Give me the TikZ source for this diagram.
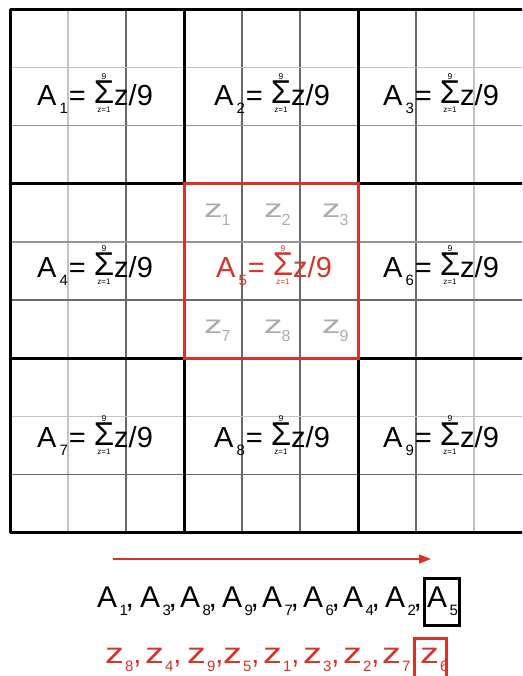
\documentclass[tikz,border=0pt]{standalone}
\usepackage{fontspec}
\setmainfont{Liberation Sans}
\usetikzlibrary{arrows.meta}
\definecolor{myred}{RGB}{214,52,40}
\definecolor{zgray}{RGB}{172,172,172}
\definecolor{lgray}{RGB}{195,195,195}
\definecolor{mgray}{RGB}{150,150,150}
\definecolor{dgray}{RGB}{105,105,105}
\newsavebox\sigbox
\newcommand\sumlim{%
  \sbox\sigbox{\fontsize{33}{33}\selectfont Σ}%
  \raisebox{2pt}{\usebox\sigbox}%
  \hspace{-\wd\sigbox}%
  \makebox[\wd\sigbox][c]{\raisebox{26pt}{\fontsize{8.5}{8.5}\selectfont 9}}%
  \hspace{-\wd\sigbox}%
  \makebox[\wd\sigbox][c]{\raisebox{-7pt}{\fontsize{8}{8}\selectfont z=1}}%
}
\newcommand\formula[1]{A\hspace{3pt}\raisebox{-8pt}{\fontsize{15}{15}\selectfont #1}\hspace{1pt}=\hspace{8pt}\sumlim z/9}
\newcommand\zlab[1]{\scalebox{1.45}[1]{z}\hspace{-1pt}\raisebox{-8pt}{\fontsize{16}{16}\selectfont #1}}
\newcommand\aitem[1]{A\hspace{2.5pt}\raisebox{-8pt}{\fontsize{15}{15}\selectfont #1}}
\newcommand\zitem[1]{\scalebox{1.3}[1]{z}\hspace{1pt}\raisebox{-8pt}{\fontsize{15}{15}\selectfont #1}}
\newcommand\cm{\hspace{-2.5pt},}
\tikzset{
  thinline/.style={line width=1.3pt},
  thickline/.style={line width=3pt, black},
  formula/.style={anchor=base west, inner sep=0pt, font=\fontsize{29}{29}\selectfont},
  zlabel/.style={anchor=base west, inner sep=0pt, text=zgray, font=\fontsize{25.5}{25.5}\selectfont},
  aseq/.style={anchor=base west, inner sep=0pt, font=\fontsize{30}{30}\selectfont},
  zseq/.style={anchor=base west, inner sep=0pt, text=myred, font=\fontsize{29}{29}\selectfont},
}
\begin{document}
\begin{tikzpicture}[x=1pt,y=-1pt]
\useasboundingbox (0,0) rectangle (522,676);
\clip (0,0) rectangle (522,676);
% thin grid lines
\foreach \x/\c in {68/lgray,126/dgray,242/dgray,300/dgray,416/dgray,474/lgray}
  \draw[thinline,\c] (\x,9.5) -- (\x,532.6);
\foreach \y/\c in {67.6/lgray,125.8/mgray,242/mgray,300/dgray,416.2/lgray,474.4/dgray}
  \draw[thinline,\c] (10,\y) -- (532,\y);
% thick grid lines
\foreach \x in {10,184,358,532}
  \draw[thickline] (\x,9.5) -- (\x,532.6);
\foreach \y in {9.5,184,358,532.6}
  \draw[thickline] (10,\y) -- (532,\y);
% red block
\draw[line width=3pt, myred] (184,184) rectangle (358,358);
% formulas
\node[formula] (f1) at (37,106) {\formula{1}};
\node[formula] (f2) at (214,106) {\formula{2}};
\node[formula] (f3) at (383,106) {\formula{3}};
\node[formula] (f4) at (37,277.5) {\formula{4}};
\node[formula, text=myred] (f5) at (216,277.5) {\formula{5}};
\node[formula] (f6) at (383,277.5) {\formula{6}};
\node[formula] (f7) at (37,447) {\formula{7}};
\node[formula] (f8) at (214,447) {\formula{8}};
\node[formula] (f9) at (383,447) {\formula{9}};
% gray z labels
\node[zlabel] (z1) at (204,217) {\zlab{1}};
\node[zlabel] (z2) at (264,217) {\zlab{2}};
\node[zlabel] (z3) at (322,217) {\zlab{3}};
\node[zlabel] (z7) at (204,333) {\zlab{7}};
\node[zlabel] (z8) at (264,333) {\zlab{8}};
\node[zlabel] (z9) at (322,333) {\zlab{9}};
% arrow
\coordinate (arrS) at (113,559);
\coordinate (arrE) at (431,559);
\draw[myred, line width=1.6pt, -{Triangle[length=12pt,width=9pt]}] (arrS) -- (arrE);
% A sequence
\node[aseq] (s1) at (97,607) {\aitem{1}\cm};
\node[aseq] (s2) at (140,607) {\aitem{3}\cm};
\node[aseq] (s3) at (180,607) {\aitem{8}\cm};
\node[aseq] (s4) at (222,607) {\aitem{9}\cm};
\node[aseq] (s5) at (262,607) {\aitem{7}\cm};
\node[aseq] (s6) at (303,607) {\aitem{6}\cm};
\node[aseq] (s7) at (343,607) {\aitem{4}\cm};
\node[aseq] (s8) at (385,607) {\aitem{2}\cm};
\node[aseq] (s9) at (427,607) {\aitem{5}};
\draw[line width=3pt, black] (424.5,578.5) rectangle (459.5,625.5);
% z sequence
\node[zseq] (t1) at (105,663) {\zitem{8},};
\node[zseq] (t2) at (145,663) {\zitem{4},};
\node[zseq] (t3) at (187,663) {\zitem{9},};
\node[zseq] (t4) at (223,663) {\zitem{5},};
\node[zseq] (t5) at (263,663) {\zitem{1},};
\node[zseq] (t6) at (303,663) {\zitem{3},};
\node[zseq] (t7) at (343,663) {\zitem{2},};
\node[zseq] (t8) at (382,663) {\zitem{7},};
\node[zseq] (t9) at (420,663) {\zitem{6}};
\draw[line width=3pt, myred] (414.5,690) -- (414.5,638.5) -- (446.5,638.5) -- (446.5,690);
\end{tikzpicture}
\end{document}
